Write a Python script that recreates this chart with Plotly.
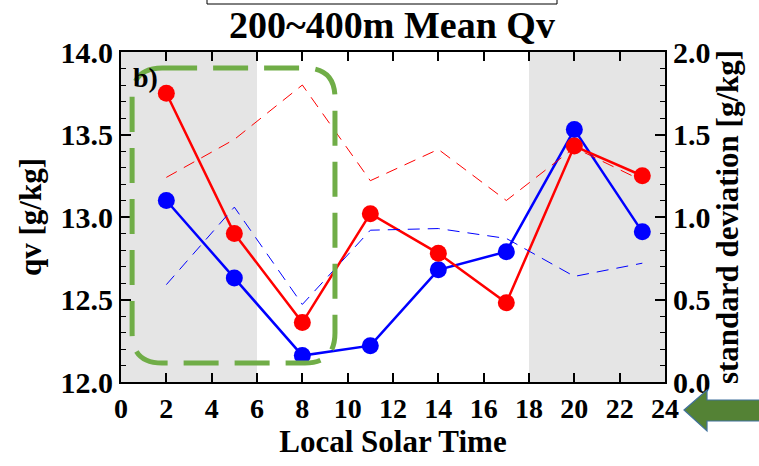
import plotly.graph_objects as go

hours = [2, 5, 8, 11, 14, 17, 20, 23]
qv_red = [13.75, 12.90, 12.36, 13.02, 12.78, 12.48, 13.43, 13.25]
qv_blue = [13.10, 12.63, 12.16, 12.22, 12.68, 12.79, 13.53, 12.91]
std_red = [1.24, 1.47, 1.80, 1.22, 1.41, 1.10, 1.42, 1.22]
std_blue = [0.59, 1.06, 0.47, 0.92, 0.93, 0.87, 0.64, 0.72]

x_ticks = list(range(0, 25, 2))
qv_ticks = [12.0, 12.5, 13.0, 13.5, 14.0]
std_ticks = [0.0, 0.5, 1.0, 1.5, 2.0]
night_spans = [(0, 6), (18, 24)]

FONT = "Liberation Serif"
fig = go.Figure()

# dashed std lines (right axis)
fig.add_trace(go.Scatter(x=hours, y=std_blue, yaxis="y2", mode="lines",
                         line=dict(color="#0000ff", width=1, dash="12px,8px"),
                         showlegend=False))
fig.add_trace(go.Scatter(x=hours, y=std_red, yaxis="y2", mode="lines",
                         line=dict(color="#ff0000", width=1, dash="12px,8px"),
                         showlegend=False))
# solid mean lines (left axis)
fig.add_trace(go.Scatter(x=hours, y=qv_blue, mode="lines+markers",
                         line=dict(color="#0000ff", width=2.5),
                         marker=dict(size=17, color="#0000ff"),
                         showlegend=False))
fig.add_trace(go.Scatter(x=hours, y=qv_red, mode="lines+markers",
                         line=dict(color="#ff0000", width=2.5),
                         marker=dict(size=17, color="#ff0000"),
                         showlegend=False))

shapes = []
for a, b in night_spans:
    shapes.append(dict(type="rect", xref="x", yref="paper", x0=a, x1=b, y0=0, y1=1,
                       fillcolor="#e5e5e5", line=dict(width=0), layer="below"))

# rounded dashed green box
x0, x1, y0, y1 = 0.49, 9.44, 12.115, 13.903
rx, ry = 30 / 22.67, 30 / 165
path = (f"M {x0+rx},{y1} L {x1-rx},{y1} Q {x1},{y1} {x1},{y1-ry} "
        f"L {x1},{y0+ry} Q {x1},{y0} {x1-rx},{y0} L {x0+rx},{y0} "
        f"Q {x0},{y0} {x0},{y0+ry} L {x0},{y1-ry} Q {x0},{y1} {x0+rx},{y1} Z")
shapes.append(dict(type="path", xref="x", yref="y", path=path,
                   line=dict(color="#70ad47", width=5, dash="35px,16px")))


def px(xp):
    return (xp - 121) / 544


def py(yp):
    return (382 - yp) / 330


# box above title
shapes.append(dict(type="rect", xref="paper", yref="paper",
                   x0=px(207), x1=px(557), y0=py(4), y1=py(-30),
                   line=dict(color="black", width=1)))

# green arrow at right
arrow = (f"M {px(684)},{py(410)} L {px(707)},{py(390)} L {px(707)},{py(400)} "
         f"L {px(765)},{py(400)} L {px(765)},{py(421)} L {px(707)},{py(421)} "
         f"L {px(707)},{py(431)} Z")
shapes.append(dict(type="path", xref="paper", yref="paper", path=arrow,
                   fillcolor="#548235", line=dict(color="#41719c", width=1.2)))

common_y = dict(ticks="inside", ticklen=10, tickwidth=1.5, tickcolor="black",
                minor=dict(dtick=0.1, ticks="inside", ticklen=5, tickcolor="black", tickwidth=1.2),
                showline=True, linecolor="black", linewidth=2,
                showgrid=False, zeroline=False,
                tickfont=dict(size=30, family=FONT))

fig.update_layout(
    width=759, height=466,
    margin=dict(l=121, r=94, t=52, b=84),
    plot_bgcolor="white", paper_bgcolor="white",
    font=dict(family=FONT, color="black", size=20),
    title=dict(text="<b>200~400m Mean Qv</b>", x=392 / 759, xanchor="center",
               y=1 - 25 / 466, yanchor="middle", font=dict(size=38, family=FONT)),
    shapes=shapes,
    xaxis=dict(range=[0, 24], tickvals=x_ticks, ticktext=[f"<b>{v}</b>" for v in x_ticks],
               ticks="inside", ticklen=9, tickwidth=1.5, tickcolor="black",
               showline=True, linecolor="black", linewidth=2, mirror="ticks",
               showgrid=False, zeroline=False,
               tickfont=dict(size=28, family=FONT),
               title=dict(text="<b>Local Solar Time</b>", font=dict(size=31, family=FONT), standoff=2)),
    yaxis=dict(range=[12.0, 14.0], tickvals=qv_ticks,
               ticktext=[f"<b>{v:.1f}</b>" for v in qv_ticks],
               title=dict(text="<b>qv [g/kg]</b>", font=dict(size=31, family=FONT), standoff=10),
               **common_y),
    yaxis2=dict(range=[0.0, 2.0], overlaying="y", side="right",
                tickvals=std_ticks,
                ticktext=[f"<b>{v:.1f}</b>" for v in std_ticks],
                title=dict(text="<b>standard deviation [g/kg]</b>", font=dict(size=31, family=FONT), standoff=6),
                **common_y),
    annotations=[dict(text="<b>b)</b>", xref="paper", yref="paper", x=px(131),
                      y=py(78), xanchor="left", yanchor="middle", showarrow=False,
                      font=dict(size=28, family=FONT))],
)

fig.write_html("out.html")
